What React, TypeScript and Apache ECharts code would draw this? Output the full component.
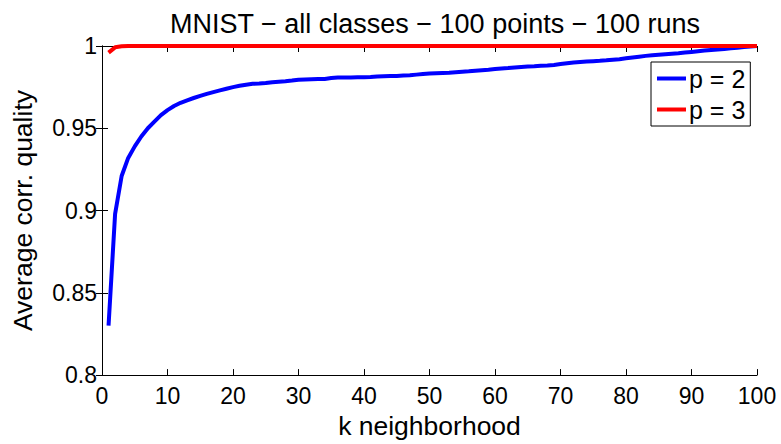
import React, { useEffect, useRef } from "react";
import * as echarts from "echarts";

const TITLE = "MNIST − all classes − 100 points − 100 runs";
const X_NAME = "k neighborhood";
const Y_NAME = "Average corr. quality";
const SERIES_NAMES = ["p = 2", "p = 3"];

// k = 1 .. 100
const kValues: number[] = Array.from({ length: 100 }, (_, i) => i + 1);

const p2Values: number[] = [
  0.83, 0.898, 0.921, 0.932, 0.939, 0.945, 0.95, 0.954, 0.958, 0.961,
  0.9635, 0.9655, 0.967, 0.9684, 0.9697, 0.9709, 0.972, 0.973, 0.974, 0.975,
  0.9758, 0.9765, 0.977, 0.9772, 0.9775, 0.978, 0.9783, 0.9786, 0.979, 0.9795,
  0.9797, 0.9798, 0.9799, 0.98, 0.9805, 0.9808, 0.9808, 0.9809, 0.981, 0.981,
  0.9812, 0.9815, 0.9816, 0.9817, 0.9818, 0.982, 0.9822, 0.9826, 0.983, 0.9833,
  0.9835, 0.9836, 0.9837, 0.984, 0.9843, 0.9846, 0.985, 0.9853, 0.9856, 0.986,
  0.9863, 0.9866, 0.987, 0.9873, 0.9875, 0.9877, 0.988, 0.9882, 0.9885, 0.989,
  0.9895, 0.99, 0.9903, 0.9906, 0.9908, 0.991, 0.9913, 0.9917, 0.992, 0.9925,
  0.993, 0.9935, 0.994, 0.9944, 0.9947, 0.995, 0.9953, 0.9956, 0.996, 0.9964,
  0.9968, 0.9972, 0.9976, 0.9979, 0.9982, 0.9986, 0.999, 0.9994, 0.9997, 1.0,
];

const p3Values: number[] = [
  0.996, 0.9992, 0.9998, 1, 1, 1, 1, 1, 1, 1,
  1, 1, 1, 1, 1, 1, 1, 1, 1, 1,
  1, 1, 1, 1, 1, 1, 1, 1, 1, 1,
  1, 1, 1, 1, 1, 1, 1, 1, 1, 1,
  1, 1, 1, 1, 1, 1, 1, 1, 1, 1,
  1, 1, 1, 1, 1, 1, 1, 1, 1, 1,
  1, 1, 1, 1, 1, 1, 1, 1, 1, 1,
  1, 1, 1, 1, 1, 1, 1, 1, 1, 1,
  1, 1, 1, 1, 1, 1, 1, 1, 1, 1,
  1, 1, 1, 1, 1, 1, 1, 1, 1, 1,
];

const X_MIN = 0, X_MAX = 100, X_STEP = 10;
const Y_MIN = 0.8, Y_MAX = 1, Y_STEP = 0.05;

const FONT = '"Liberation Sans", Arial, sans-serif';

export default function App() {
  const ref = useRef<HTMLDivElement>(null);
  useEffect(() => {
    document.body.style.margin = "0";
    const chart = echarts.init(ref.current!, null, { renderer: "svg" });
    const axisLine = { show: true, lineStyle: { color: "#000", width: 1 } };
    const tick = { show: true, inside: true, length: 6, lineStyle: { color: "#000", width: 1 } };
    const fmtY = (v: number) => String(+v.toFixed(2));
    chart.setOption({
      animation: false,
      backgroundColor: "#fff",
      textStyle: { fontFamily: FONT },
      title: {
        text: TITLE,
        left: 430,
        textAlign: "center",
        top: 5,
        textStyle: { fontFamily: FONT, fontSize: 27, fontWeight: "normal", color: "#000" },
      },
      grid: { left: 102, right: 24, top: 46, bottom: 54 },
      legend: {
        data: SERIES_NAMES,
        orient: "vertical",
        left: 651,
        top: 62,
        icon: "rect",
        itemWidth: 29,
        itemHeight: 4,
        itemGap: 6,
        padding: [4, 5, 4, 6],
        borderColor: "#000",
        borderWidth: 1,
        backgroundColor: "#fff",
        textStyle: { fontFamily: FONT, fontSize: 25, color: "#000", padding: [0, 0, 0, -2] },
      },
      xAxis: [
        {
          type: "value",
          min: X_MIN,
          max: X_MAX,
          interval: X_STEP,
          name: X_NAME,
          nameLocation: "middle",
          nameGap: 31,
          nameTextStyle: { fontFamily: FONT, fontSize: 26.5, color: "#000" },
          axisLine,
          axisTick: tick,
          splitLine: { show: false },
          axisLabel: { margin: 9, fontFamily: FONT, fontSize: 23, color: "#000" },
        },
        {
          type: "value",
          position: "top",
          min: X_MIN,
          max: X_MAX,
          interval: X_STEP,
          axisLine,
          axisTick: tick,
          splitLine: { show: false },
          axisLabel: { show: false },
        },
      ],
      yAxis: [
        {
          type: "value",
          min: Y_MIN,
          max: Y_MAX,
          interval: Y_STEP,
          name: Y_NAME,
          nameLocation: "middle",
          nameGap: 66,
          nameTextStyle: { fontFamily: FONT, fontSize: 26.5, color: "#000" },
          axisLine,
          axisTick: tick,
          splitLine: { show: false },
          axisLabel: { margin: 5, fontFamily: FONT, fontSize: 23, color: "#000", formatter: fmtY },
        },
        {
          type: "value",
          position: "right",
          min: Y_MIN,
          max: Y_MAX,
          interval: Y_STEP,
          axisLine,
          axisTick: tick,
          splitLine: { show: false },
          axisLabel: { show: false },
        },
      ],
      series: [
        {
          name: SERIES_NAMES[0],
          type: "line",
          xAxisIndex: 0,
          yAxisIndex: 0,
          data: kValues.map((k, i) => [k, p2Values[i]]),
          showSymbol: false,
          symbol: "none",
          clip: false,
          color: "#0000ff",
          lineStyle: { color: "#0000ff", width: 4 },
        },
        {
          name: SERIES_NAMES[1],
          type: "line",
          xAxisIndex: 0,
          yAxisIndex: 0,
          data: kValues.map((k, i) => [k, p3Values[i]]),
          showSymbol: false,
          symbol: "none",
          clip: false,
          color: "#ff0000",
          lineStyle: { color: "#ff0000", width: 4 },
        },
      ],
    });
    return () => chart.dispose();
  }, []);
  return (
    <div
      ref={ref}
      style={{ position: "fixed", left: 0, top: 0, width: 781, height: 444 }}
    />
  );
}
